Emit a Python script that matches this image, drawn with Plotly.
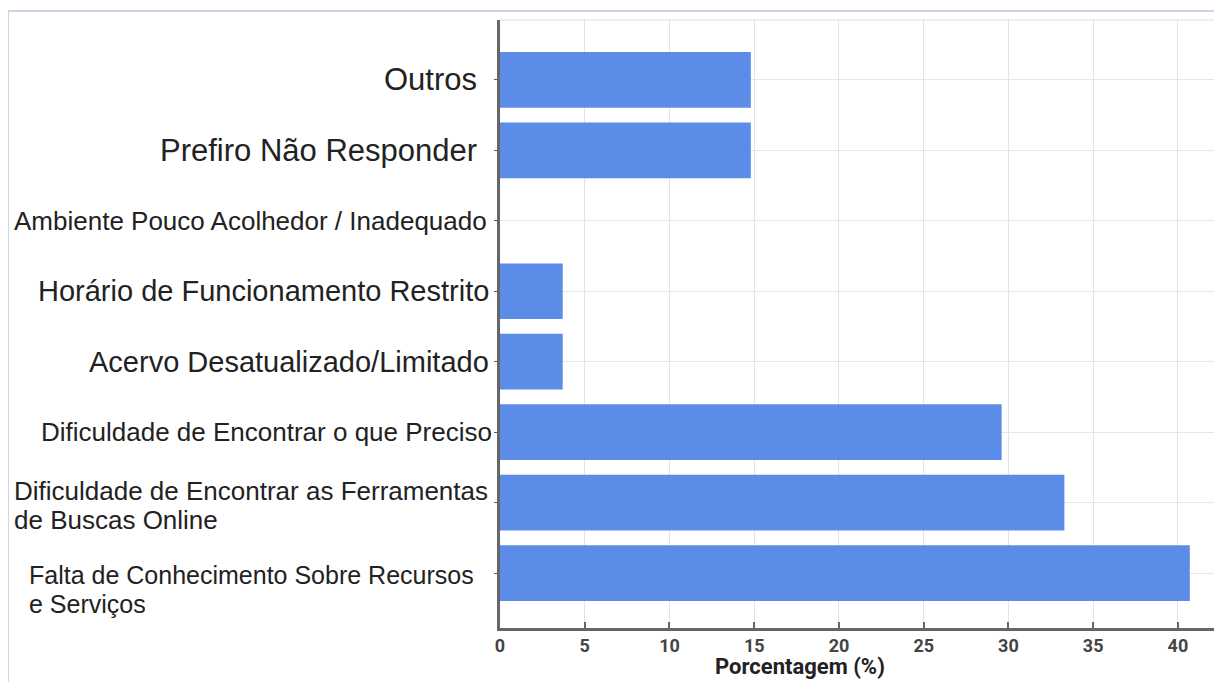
import plotly.graph_objects as go

# categories listed bottom to top
categories = [
    "Falta de Conhecimento Sobre Recursos<br>e Serviços",
    "Dificuldade de Encontrar as Ferramentas<br>de Buscas Online",
    "Dificuldade de Encontrar o que Preciso",
    "Acervo Desatualizado/Limitado",
    "Horário de Funcionamento Restrito",
    "Ambiente Pouco Acolhedor / Inadequado",
    "Prefiro Não Responder",
    "Outros",
]
percentages = [40.7, 33.3, 29.6, 3.7, 3.7, 0.0, 14.8, 14.8]
x_ticks = [0, 5, 10, 15, 20, 25, 30, 35, 40]

# label styling: (font size, anchor, x shift px, y shift px)
label_styles = [
    (25, "left", -473, -16),
    (26, "left", -488, -3),
    (26, "right", -6, 0),
    (29, "right", -9, 0),
    (29, "right", -9, 0),
    (26, "right", -11, 0),
    (31, "right", -21, 0),
    (31, "right", -21, 0),
]
LINE_GAP = 29

BAR_COLOR = "#5b8de8"
LABEL_FONT = "Liberation Sans, Arial, sans-serif"
TICK_FONT = "Liberation Sans Narrow, Arial Narrow, Roboto, sans-serif"

fig = go.Figure(
    go.Bar(
        x=percentages,
        y=list(range(len(categories))),
        orientation="h",
        marker=dict(color=BAR_COLOR, line=dict(width=0)),
        width=0.79,
    )
)

for i, (label, (size, anchor, xs, ys)) in enumerate(zip(categories, label_styles)):
    lines = label.split("<br>")
    n = len(lines)
    for j, line in enumerate(lines):
        offset = (j - (n - 1) / 2) * LINE_GAP
        fig.add_annotation(
            x=0,
            y=i,
            xref="paper",
            yref="y",
            text=line,
            showarrow=False,
            xanchor=anchor,
            xshift=xs,
            yshift=ys - offset,
            font=dict(family=LABEL_FONT, size=size, color="#222222"),
        )

fig.add_annotation(
    x=0.415,
    y=-0.064,
    xref="paper",
    yref="paper",
    yanchor="middle",
    text="Porcentagem (%)",
    showarrow=False,
    font=dict(family=TICK_FONT, size=22, color="#222222", weight="bold"),
)

# screenshot frame (top and left edges)
frame = dict(type="line", xref="paper", yref="paper", line=dict(color="#cdd6e6", width=2), layer="above")
fig.add_shape(frame, x0=-0.6814, x1=1.0, y0=1.0149, y1=1.0149)
fig.add_shape(frame, x0=-0.6814, x1=-0.6814, y0=-0.2, y1=1.0149)

fig.update_layout(
    width=1214,
    height=674,
    margin=dict(l=492, r=0, t=12, b=54),
    plot_bgcolor="white",
    paper_bgcolor="white",
    showlegend=False,
    bargap=0.21,
)

fig.update_xaxes(
    range=[0, 42.6],
    tickvals=x_ticks,
    ticks="inside",
    ticklen=6,
    tickcolor="#666666",
    tickwidth=1.5,
    showline=True,
    linecolor="#666666",
    linewidth=2.5,
    showgrid=True,
    gridcolor="#e3e3e3",
    gridwidth=1,
    zeroline=False,
    tickfont=dict(family=TICK_FONT, size=18, color="#444444", weight="bold"),
)

fig.update_yaxes(
    range=[-0.78, 7.85],
    tickvals=list(range(len(categories))),
    ticktext=[""] * len(categories),
    ticks="outside",
    ticklen=3,
    tickcolor="#555555",
    showline=True,
    linecolor="#666666",
    linewidth=2.5,
    showgrid=True,
    gridcolor="#e6e6e6",
    zeroline=False,
)

# light top border of the plot area
fig.add_shape(type="line", xref="paper", yref="paper", x0=0, x1=1, y0=1, y1=1,
              line=dict(color="#dddddd", width=1))

fig.write_html("out.html")
